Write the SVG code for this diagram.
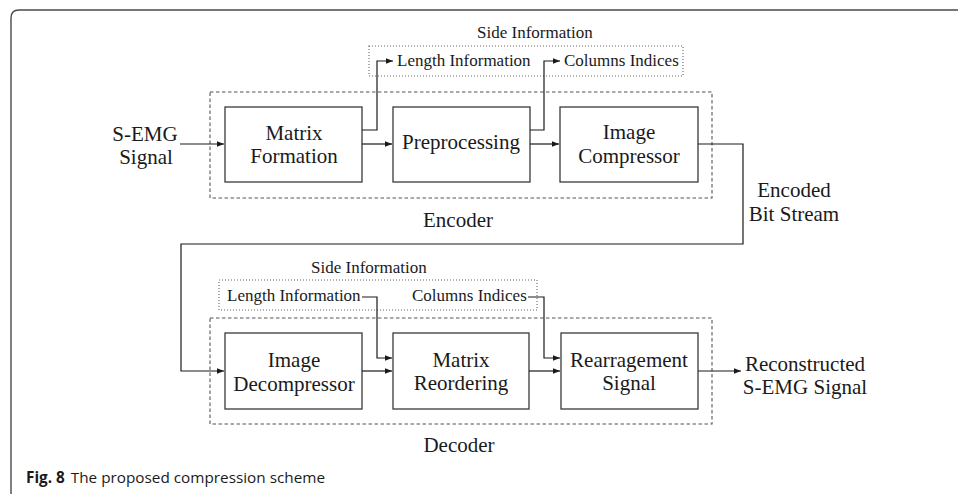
<svg xmlns="http://www.w3.org/2000/svg" width="958" height="494" viewBox="0 0 958 494">
<defs>
<style>
.frame{fill:none;stroke:#4a4a4a;stroke-width:1.4}
.box{fill:#fff;stroke:#3a3a3a;stroke-width:1.3}
.dash{fill:none;stroke:#555;stroke-width:1.1;stroke-dasharray:3.5,2.5}
.dot{fill:none;stroke:#666;stroke-width:1.1;stroke-dasharray:1,2}
.conn{fill:none;stroke:#1a1a1a;stroke-width:1.2}
.t{fill:#1a1a1a}
.big{font-size:21px;text-anchor:middle}
.small{font-size:17px}
.cap{font-size:15.3px;fill:#1a1a1a}
</style>
<marker id="ah" viewBox="0 0 10 10" refX="10" refY="5" markerWidth="7" markerHeight="7" markerUnits="userSpaceOnUse" orient="auto">
<path d="M0,1 L10,5 L0,9 Z" fill="#1a1a1a"/>
</marker>
</defs>
<rect width="958" height="494" fill="#fff"/>
<path class="frame" d="M11,494 L11,18 Q11,10 19,10 L958,10"/>

<g font-family="Liberation Serif, Times New Roman, Times, serif">
<g id="encoder-group">
<rect class="dash" x="210" y="92" width="502" height="106"/>
<text class="t big" x="458" y="227">Encoder</text>
</g>
<g id="enc-side-info">
<rect class="dot" x="369" y="46" width="314" height="30"/>
<text class="t small" x="477" y="38">Side Information</text>
<text class="t small" x="397" y="66">Length Information</text>
<text class="t small" x="564" y="66">Columns Indices</text>
</g>
<g id="input-label">
<text class="t big" x="145" y="141">S-EMG</text>
<text class="t big" x="146" y="164">Signal</text>
</g>
<g id="matrix-formation">
<rect class="box" x="225" y="107" width="137" height="75"/>
<text class="t big" x="294" y="140">Matrix</text>
<text class="t big" x="294" y="163">Formation</text>
</g>
<g id="preprocessing">
<rect class="box" x="393" y="107" width="137" height="75"/>
<text class="t big" x="461" y="149">Preprocessing</text>
</g>
<g id="image-compressor">
<rect class="box" x="560" y="107" width="138" height="75"/>
<text class="t big" x="629" y="139">Image</text>
<text class="t big" x="629" y="163">Compressor</text>
</g>
<g id="bitstream-label">
<text class="t big" x="794" y="197">Encoded</text>
<text class="t big" x="794" y="221">Bit Stream</text>
</g>

<g id="decoder-group">
<rect class="dash" x="210" y="318" width="502" height="106"/>
<text class="t big" x="459" y="452">Decoder</text>
</g>
<g id="dec-side-info">
<rect class="dot" x="219" y="280" width="318" height="30"/>
<text class="t small" x="311" y="273">Side Information</text>
<text class="t small" x="227" y="301">Length Information</text>
<text class="t small" x="412" y="301">Columns Indices</text>
</g>
<g id="image-decompressor">
<rect class="box" x="225" y="333" width="137" height="76"/>
<text class="t big" x="294" y="367">Image</text>
<text class="t big" x="294" y="391">Decompressor</text>
</g>
<g id="matrix-reordering">
<rect class="box" x="393" y="333" width="136" height="76"/>
<text class="t big" x="461" y="367">Matrix</text>
<text class="t big" x="461" y="390">Reordering</text>
</g>
<g id="rearrangement-signal">
<rect class="box" x="561" y="333" width="137" height="76"/>
<text class="t big" x="629" y="367">Rearragement</text>
<text class="t big" x="629" y="390">Signal</text>
</g>
<g id="output-label">
<text class="t big" x="805" y="371">Reconstructed</text>
<text class="t big" x="805" y="394">S-EMG Signal</text>
</g>
</g>

<g id="connectors">
<path class="conn" d="M180,144 L224,144" marker-end="url(#ah)"/>
<path class="conn" d="M362,144 L392,144" marker-end="url(#ah)"/>
<path class="conn" d="M530,144 L559,144" marker-end="url(#ah)"/>
<path class="conn" d="M362,130 L377,130 L377,61 L393,61" marker-end="url(#ah)"/>
<path class="conn" d="M530,130 L544,130 L544,61 L560,61" marker-end="url(#ah)"/>
<path class="conn" d="M698,144 L743,144 L743,244 L181,244 L181,371 L224,371" marker-end="url(#ah)"/>
<path class="conn" d="M362,371 L392,371" marker-end="url(#ah)"/>
<path class="conn" d="M529,371 L560,371" marker-end="url(#ah)"/>
<path class="conn" d="M362,297 L377,297 L377,358 L392,358" marker-end="url(#ah)"/>
<path class="conn" d="M528,297 L544,297 L544,358 L560,358" marker-end="url(#ah)"/>
<path class="conn" d="M698,371 L741,371" marker-end="url(#ah)"/>
</g>

<text class="cap" font-family="Open Sans, Noto Sans, sans-serif" x="26" y="483"><tspan font-weight="bold">Fig. 8</tspan><tspan dx="6">The proposed compression scheme</tspan></text>
</svg>
